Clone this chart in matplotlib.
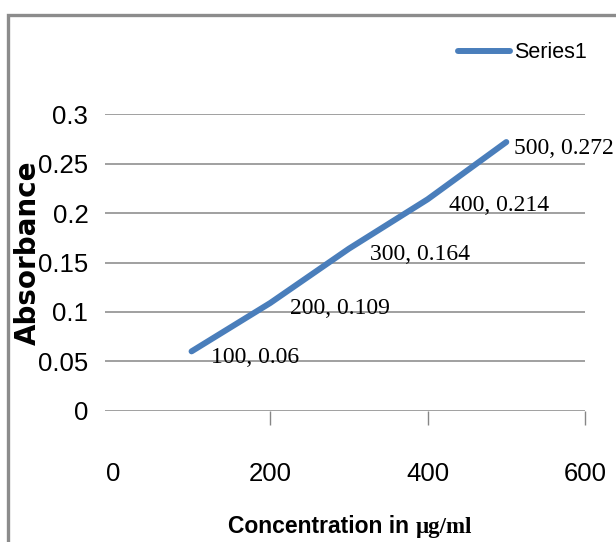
import matplotlib
matplotlib.use("Agg")
import matplotlib.pyplot as plt
from matplotlib.patches import Rectangle

# data
conc = [100, 200, 300, 400, 500]
absorbance = [0.06, 0.109, 0.164, 0.214, 0.272]
xticks = [0, 200, 400, 600]
yticks = [0, 0.05, 0.1, 0.15, 0.2, 0.25, 0.3]
ytick_labels = ["0", "0.05", "0.1", "0.15", "0.2", "0.25", "0.3"]

sans = "Liberation Sans"
serif = "Liberation Serif"
line_col = "#4A7EBB"
grid_col = "#868686"

W, H = 616, 542
fig = plt.figure(figsize=(W / 100, H / 100), dpi=100)

# outer chart border (cut by the image edge on right and bottom)
fig.patches.append(Rectangle((8 / W, -0.2), 2.0, 1.2 - 15 / H, transform=fig.transFigure,
                             fill=False, edgecolor="#8c8c8c", linewidth=2.4))

ax = fig.add_axes([105 / W, 1 - 411 / H, 480 / W, 297 / H])
ax.set_xlim(-10, 600)
ax.set_ylim(-0.0004, 0.3004)

for s in ax.spines.values():
    s.set_visible(False)

ax.set_yticks(yticks)
ax.set_yticklabels(ytick_labels)
ax.yaxis.grid(True, color=grid_col, linewidth=1.1)
ax.tick_params(axis="y", length=0, pad=12)
ax.set_xticks(xticks)
ax.tick_params(axis="x", length=10, width=1, color=grid_col, pad=27)
ax.xaxis.get_major_ticks()[0].tick1line.set_visible(False)
for lab in ax.get_xticklabels() + ax.get_yticklabels():
    lab.set_family(sans)
    lab.set_fontsize(18.5)

ax.plot(conc, absorbance, color=line_col, linewidth=4.3, solid_capstyle="round",
        label="Series1", clip_on=False)

# data labels sit right of each point; the last one is pulled in to fit
label_dx = [19, 20, 21, 21, 8]
for x, y, dx in zip(conc, absorbance, label_dx):
    ax.annotate(f"{x}, {y:g}", (x, y), xytext=(dx, -6), textcoords="offset pixels",
                ha="left", va="center", family=serif, fontsize=17)

ax.legend(loc="center right", bbox_to_anchor=(587 / W, 1 - 53 / H),
          bbox_transform=fig.transFigure, frameon=False, borderpad=0,
          borderaxespad=0, handlelength=2.4, handletextpad=0.2,
          prop={"family": sans, "size": 15.5})

# axis titles
fig.text(28 / W, 1 - 253 / H, "Absorbance", rotation=90, ha="center", va="center",
         family="DejaVu Sans", fontweight="bold", fontsize=20)
t1 = fig.text(228 / W, 1 - 533 / H, "Concentration in ", ha="left", va="baseline",
              family=sans, fontweight="bold", fontsize=16.5)
ax.annotate("μg/ml", xy=(1, 0), xycoords=t1, ha="left", va="bottom",
            family=serif, fontweight="bold", fontsize=16.5, annotation_clip=False)

fig.savefig("out.png", dpi=100)
